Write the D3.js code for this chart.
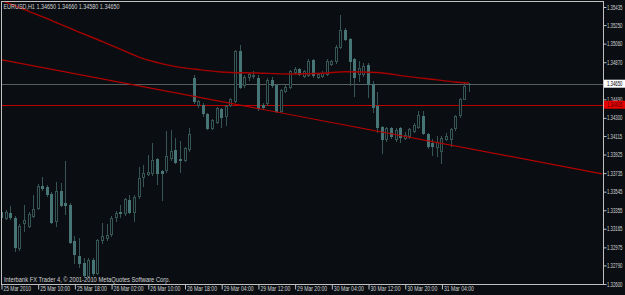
<!doctype html>
<html>
<head>
<meta charset="utf-8">
<title>EURUSD,H1</title>
<style>
  body { margin: 0; background: #0a0e12; }
  svg { display: block; }
  .lbl { font-family: "Liberation Sans", Arial, sans-serif; font-size: 6.5px; fill: #d2d2d2; }
  .axis path { display: none; }
  .axis line { stroke: #c0c0c0; }
</style>
</head>
<body>
<div id="chart"></div>
<script src="https://d3js.org/d3.v7.min.js"></script>
<script>
// bar data, H1, bar 0 = 25 Mar 2010
var opens = [1.3334,1.3328,1.3333,1.3328,1.3297,1.3322,1.3319,1.3330,1.3338,1.3360,
             1.3359,1.3352,1.3324,1.3355,1.3343,1.3341,1.3304,1.3289,1.3281,1.3268,
             1.3285,1.3271,1.3305,1.3307,1.3311,1.3329,1.3334,1.3333,1.3346,1.3334,
             1.3350,1.3369,1.3373,1.3374,1.3388,1.3376,1.3377,1.3389,1.3397,1.3388,
             1.3387,1.3398,1.3471,1.3443,1.3443,1.3434,1.3420,1.3426,1.3439,1.3432,
             1.3443,1.3447,1.3498,1.3464,1.3472,1.3473,1.3471,1.3443,1.3445,1.3469,
             1.3464,1.3437,1.3458,1.3462,1.3477,1.3480,1.3473,1.3474,1.3489,1.3472,
             1.3473,1.3475,1.3485,1.3488,1.3503,1.3520,1.3511,1.3490,1.3475,1.3475,
             1.3484,1.3465,1.3442,1.3421,1.3408,1.3420,1.3408,1.3420,1.3409,1.3411,
             1.3417,1.3421,1.3432,1.3414,1.3404,1.3400,1.3396,1.3408,1.3408,1.3420,
             1.3433,1.3449,1.3465];
var highs = [1.3336,1.3336,1.3340,1.3330,1.3321,1.3341,1.3334,1.3351,1.3362,1.3369,
             1.3361,1.3354,1.3364,1.3363,1.3386,1.3343,1.3309,1.3307,1.3287,1.3287,
             1.3287,1.3306,1.3322,1.3321,1.3330,1.3335,1.3341,1.3348,1.3351,1.3351,
             1.3380,1.3382,1.3392,1.3404,1.3389,1.3377,1.3417,1.3418,1.3409,1.3406,
             1.3400,1.3420,1.3474,1.3448,1.3445,1.3435,1.3429,1.3441,1.3440,1.3443,
             1.3450,1.3500,1.3505,1.3474,1.3477,1.3478,1.3474,1.3445,1.3471,1.3472,
             1.3465,1.3460,1.3464,1.3479,1.3482,1.3481,1.3479,1.3490,1.3490,1.3476,
             1.3478,1.3490,1.3489,1.3505,1.3535,1.3522,1.3512,1.3491,1.3488,1.3486,
             1.3486,1.3468,1.3456,1.3422,1.3421,1.3421,1.3420,1.3421,1.3416,1.3420,
             1.3425,1.3437,1.3437,1.3415,1.3408,1.3411,1.3411,1.3415,1.3420,1.3433,
             1.3450,1.3466,1.3466];
var lows  = [1.3326,1.3327,1.3327,1.3294,1.3295,1.3314,1.3318,1.3329,1.3337,1.3356,
             1.3350,1.3322,1.3319,1.3340,1.3332,1.3302,1.3282,1.3277,1.3268,1.3267,
             1.3269,1.3270,1.3302,1.3305,1.3309,1.3324,1.3329,1.3331,1.3333,1.3324,
             1.3348,1.3360,1.3372,1.3372,1.3362,1.3346,1.3375,1.3387,1.3384,1.3375,
             1.3386,1.3396,1.3445,1.3441,1.3432,1.3419,1.3419,1.3425,1.3421,1.3423,
             1.3442,1.3446,1.3461,1.3462,1.3469,1.3471,1.3438,1.3440,1.3443,1.3462,
             1.3436,1.3436,1.3457,1.3461,1.3475,1.3474,1.3472,1.3473,1.3472,1.3471,
             1.3472,1.3474,1.3484,1.3486,1.3502,1.3510,1.3464,1.3452,1.3468,1.3473,
             1.3451,1.3436,1.3416,1.3394,1.3406,1.3409,1.3406,1.3405,1.3408,1.3409,
             1.3416,1.3420,1.3414,1.3399,1.3392,1.3391,1.3384,1.3407,1.3401,1.3418,
             1.3431,1.3449,1.3458];
var closes = [1.3329,1.3334,1.3329,1.3298,1.3319,1.3325,1.3332,1.3337,1.3360,1.3358,
              1.3352,1.3323,1.3355,1.3341,1.3341,1.3303,1.3291,1.3281,1.3269,1.3285,
              1.3271,1.3305,1.3309,1.3310,1.3328,1.3333,1.3333,1.3347,1.3334,1.3349,
              1.3368,1.3374,1.3375,1.3387,1.3374,1.3374,1.3391,1.3396,1.3385,1.3387,
              1.3399,1.3414,1.3447,1.3447,1.3435,1.3420,1.3428,1.3440,1.3431,1.3442,
              1.3449,1.3498,1.3462,1.3472,1.3475,1.3474,1.3440,1.3441,1.3469,1.3464,
              1.3437,1.3459,1.3462,1.3478,1.3480,1.3475,1.3478,1.3488,1.3474,1.3475,
              1.3476,1.3488,1.3488,1.3503,1.3520,1.3511,1.3488,1.3472,1.3481,1.3483,
              1.3465,1.3441,1.3421,1.3408,1.3420,1.3411,1.3418,1.3410,1.3413,1.3419,
              1.3423,1.3433,1.3415,1.3401,1.3401,1.3405,1.3409,1.3411,1.3419,1.3432,
              1.3449,1.3463,1.3465];

// moving average, read at a few bars
var maIdx = [0, 4, 9, 13, 17, 22, 26, 31, 35, 39, 42, 48, 56, 63, 70, 75, 82, 88, 95, 99, 102];
var maVal = [1.35505, 1.35428, 1.35336, 1.35257, 1.35178, 1.35083, 1.35003, 1.34906, 1.34855, 1.34817,
             1.34800, 1.34770, 1.34759, 1.34750, 1.34757, 1.34773, 1.34765, 1.34727, 1.34689, 1.34667, 1.34657];

// trend line (two anchor points) and horizontal levels
var trendIdx = [0, 131];
var trendVal = [1.34895, 1.33728];
var bidPrice = 1.34650;
var levelPrice = 1.34435;

var priceTicks = [1.35435, 1.35250, 1.35060, 1.34870, 1.34490, 1.34300, 1.34115, 1.33925,
                  1.33735, 1.33545, 1.33355, 1.33165, 1.32975, 1.32790, 1.32600];
var timeIdx = [0, 8, 16, 24, 32, 40, 48, 56, 64, 72, 80, 88, 96];
var timeLabels = ["25 Mar 2010", "25 Mar 10:00", "25 Mar 18:00", "26 Mar 02:00", "26 Mar 10:00",
                  "26 Mar 18:00", "29 Mar 04:00", "29 Mar 12:00", "29 Mar 20:00", "30 Mar 04:00",
                  "30 Mar 12:00", "30 Mar 20:00", "31 Mar 04:00"];

var W = 625, H = 295;
var plotLeft = 2, plotRight = 603, plotTop = 1, plotBottom = 284;
var bg = "#0a0e12", candleLine = "#365555", candleFill = "#477474";
var priceSquash = "scale(0.66,1)";

var x = d3.scaleLinear().domain([0, 131]).range([1, 602]);
var y = d3.scaleLinear().domain([1.32600, 1.35435]).range([plotBottom, 7]);

var svg = d3.select("#chart").append("svg")
    .attr("width", W)
    .attr("height", H);

svg.append("rect").attr("width", W).attr("height", H).attr("fill", bg);

svg.append("clipPath").attr("id", "clip")
  .append("rect")
    .attr("x", plotLeft).attr("y", plotTop)
    .attr("width", plotRight - plotLeft).attr("height", plotBottom - plotTop);

var plot = svg.append("g").attr("clip-path", "url(#clip)");

// horizontal lines
plot.append("line")
    .attr("x1", plotLeft).attr("x2", plotRight)
    .attr("y1", Math.round(y(bidPrice)) + 0.5).attr("y2", Math.round(y(bidPrice)) + 0.5)
    .attr("stroke", "#56615f");
plot.append("line")
    .attr("x1", plotLeft).attr("x2", plotRight)
    .attr("y1", Math.round(y(levelPrice)) + 0.5).attr("y2", Math.round(y(levelPrice)) + 0.5)
    .attr("stroke", "#c00000");

// candles
var bars = d3.range(opens.length);
var px = function (i) { return Math.round(x(i)); };

plot.selectAll(".wick")
    .data(bars)
    .enter().append("line")
    .attr("class", "wick")
    .attr("x1", function (i) { return px(i) + 0.5; })
    .attr("x2", function (i) { return px(i) + 0.5; })
    .attr("y1", function (i) { return Math.round(y(highs[i])); })
    .attr("y2", function (i) { return Math.round(y(lows[i])) + 1; })
    .attr("stroke", candleLine)
    .attr("shape-rendering", "crispEdges");

plot.selectAll(".body")
    .data(bars)
    .enter().append("rect")
    .attr("class", "body")
    .attr("x", function (i) { return px(i) - 1; })
    .attr("y", function (i) { return Math.round(y(Math.max(opens[i], closes[i]))); })
    .attr("width", 3)
    .attr("height", function (i) {
        return Math.max(1, Math.round(y(Math.min(opens[i], closes[i]))) - Math.round(y(Math.max(opens[i], closes[i]))) + 1);
    })
    .attr("fill", function (i) { return closes[i] > opens[i] ? bg : candleFill; })
    .attr("shape-rendering", "crispEdges");

// outline for hollow (bull) candles
plot.selectAll(".hollow")
    .data(bars.filter(function (i) { return closes[i] > opens[i]; }))
    .enter().append("rect")
    .attr("class", "hollow")
    .attr("x", function (i) { return px(i) - 0.5; })
    .attr("y", function (i) { return Math.round(y(closes[i])) + 0.5; })
    .attr("width", 2)
    .attr("height", function (i) { return Math.max(0, Math.round(y(opens[i])) - Math.round(y(closes[i]))); })
    .attr("fill", "none")
    .attr("stroke", candleLine)
    .attr("shape-rendering", "crispEdges");

// moving average
plot.append("path")
    .datum(d3.range(maIdx.length))
    .attr("fill", "none")
    .attr("stroke", "#a80000")
    .attr("stroke-width", 1.4)
    .attr("d", d3.line()
        .x(function (k) { return x(maIdx[k]); })
        .y(function (k) { return y(maVal[k]); })
        .curve(d3.curveMonotoneX));

// trend line
plot.append("line")
    .attr("x1", x(trendIdx[0])).attr("y1", y(trendVal[0]))
    .attr("x2", x(trendIdx[1])).attr("y2", y(trendVal[1]))
    .attr("stroke", "#b40000")
    .attr("stroke-width", 1.2);

// frame
svg.append("path")
    .attr("d", "M" + (plotLeft - 0.5) + "," + (plotBottom + 0.5) + "V" + (plotTop + 0.5) +
               "H" + (plotRight + 0.5) + "V" + (plotBottom + 0.5) + "H" + (plotLeft - 0.5))
    .attr("fill", "none")
    .attr("stroke", "#c0c0c0")
    .attr("shape-rendering", "crispEdges");

// price axis
var yAxis = svg.append("g")
    .attr("class", "axis")
    .attr("transform", "translate(" + (plotRight + 0.5) + ",0)")
    .call(d3.axisRight(y).tickValues(priceTicks).tickSize(3).tickFormat(d3.format(".5f")));
yAxis.selectAll("text")
    .attr("class", "lbl")
    .attr("fill", null)
    .attr("x", 0)
    .attr("dy", "0.32em")
    .attr("transform", "translate(3.5,0) " + priceSquash);

// current price and level labels
function priceTag(p, fill, color) {
    var g = svg.append("g").attr("transform", "translate(" + (plotRight + 1) + "," + y(p) + ")");
    g.append("rect").attr("x", 0).attr("y", -4).attr("width", W - plotRight).attr("height", 8).attr("fill", fill);
    g.append("text").attr("class", "lbl").attr("dy", "0.32em")
        .attr("transform", "translate(3,0) " + priceSquash)
        .style("fill", color)
        .text(d3.format(".5f")(p));
}
priceTag(bidPrice, "#ffffff", "#000000");
priceTag(levelPrice, "#e80000", "#500000");

// time axis
var xAxis = svg.append("g")
    .attr("class", "axis")
    .attr("transform", "translate(0," + (plotBottom + 0.5) + ")")
    .call(d3.axisBottom(x).tickValues(timeIdx).tickSize(5)
        .tickFormat(function (d, k) { return timeLabels[k]; }));
xAxis.selectAll(".tick line").attr("transform", "translate(0.5,0)");
xAxis.selectAll("text")
    .attr("class", "lbl")
    .attr("fill", null)
    .attr("text-anchor", "start")
    .attr("x", 2)
    .attr("y", 6.5)
    .attr("dy", 0)
    .attr("textLength", function (d, k) { return timeLabels[k].length * 2.5; })
    .attr("lengthAdjust", "spacingAndGlyphs");

// header and footer
svg.append("text").attr("class", "lbl")
    .attr("x", 3.5).attr("y", 8.5)
    .attr("textLength", 116).attr("lengthAdjust", "spacingAndGlyphs")
    .text("EURUSD,H1  1.34650 1.34660 1.34580 1.34650");
svg.append("text").attr("class", "lbl")
    .attr("x", 4).attr("y", 282)
    .attr("textLength", 166).attr("lengthAdjust", "spacingAndGlyphs")
    .text("Interbank FX Trader 4, \u00a9 2001-2010 MetaQuotes Software Corp.");
</script>
</body>
</html>
